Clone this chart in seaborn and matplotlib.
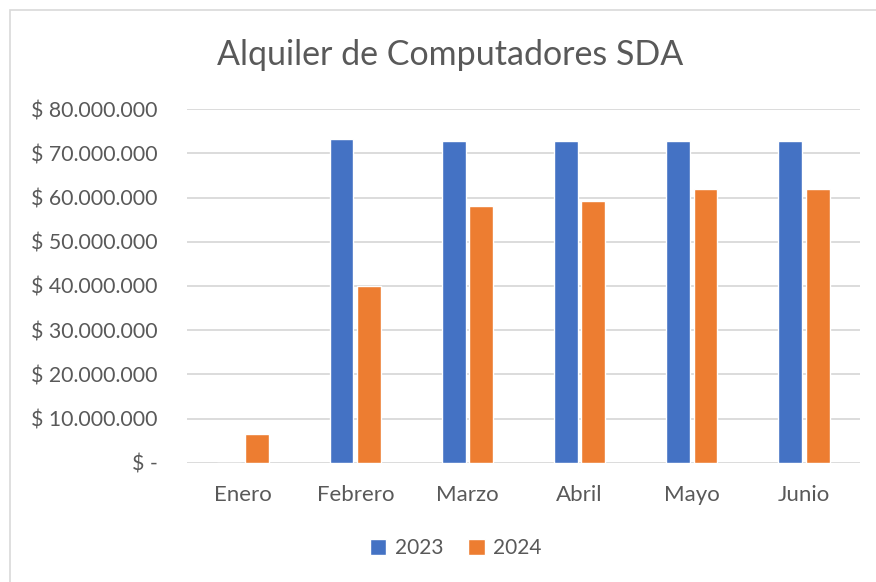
import seaborn as sns
import matplotlib.pyplot as plt
import pandas as pd
from matplotlib.ticker import FuncFormatter
from matplotlib.patches import Patch

# Datos del gráfico
meses = ['Enero', 'Febrero', 'Marzo', 'Abril', 'Mayo', 'Junio']
ventas_2023 = [0, 73300000, 72850000, 72850000, 72850000, 72850000]
ventas_2024 = [6500000, 39900000, 58100000, 59300000, 61900000, 61900000]
anios = ['2023', '2024']
colores = ['#4472C4', '#ED7D31']

df = pd.DataFrame({
    'Mes': meses * 2,
    'Año': [anios[0]] * len(meses) + [anios[1]] * len(meses),
    'Valor': ventas_2023 + ventas_2024,
})

sns.set_style('white')
plt.rcParams['font.family'] = ['Lato', 'DejaVu Sans']
gris = '#595959'

fig = plt.figure(figsize=(8.76, 5.82), dpi=100)
ax = fig.add_axes([0.2135, 0.2045, 0.7682, 0.6082])

sns.barplot(data=df, x='Mes', y='Valor', hue='Año', palette=colores, saturation=1,
            width=0.49, gap=0.13, ax=ax, legend=False, zorder=3)

ax.set_ylim(0, 80000000)
ax.set_xlim(-0.5, 5.5)
ax.set_yticks(range(0, 80000001, 10000000))

def formato_pesos(v, pos):
    if v == 0:
        return '$ -'
    return '$ ' + f'{int(v):,}'.replace(',', '.')

ax.yaxis.set_major_formatter(FuncFormatter(formato_pesos))
ax.grid(axis='y', color='#d9d9d9', linewidth=1.3, zorder=0)
for lado in ['top', 'right', 'left', 'bottom']:
    ax.spines[lado].set_visible(False)
ax.tick_params(axis='both', length=0, labelcolor=gris)
ax.tick_params(axis='y', pad=21, labelsize=15.3)
ax.tick_params(axis='x', pad=16, labelsize=16)
ax.set_xlabel('')
ax.set_ylabel('')

fig.text(0.514, 0.905, 'Alquiler de Computadores SDA', ha='center', va='center',
         fontsize=24.5, color=gris)

# Leyenda
manijas = [Patch(facecolor=c, label=a) for c, a in zip(colores, anios)]
fig.legend(handles=manijas, loc='center', bbox_to_anchor=(0.52, 0.058), ncol=2,
           frameon=False, fontsize=15, labelcolor=gris, handlelength=0.8,
           handleheight=0.8, handletextpad=0.4, columnspacing=1.2)

# Borde del área del gráfico
fig.patches.append(plt.Rectangle((10 / 876, -0.1), 2, 1.1 - 10 / 582,
                                 transform=fig.transFigure, fill=False,
                                 edgecolor='#d9d9d9', linewidth=1.2))

fig.savefig('out.png', dpi=100)
